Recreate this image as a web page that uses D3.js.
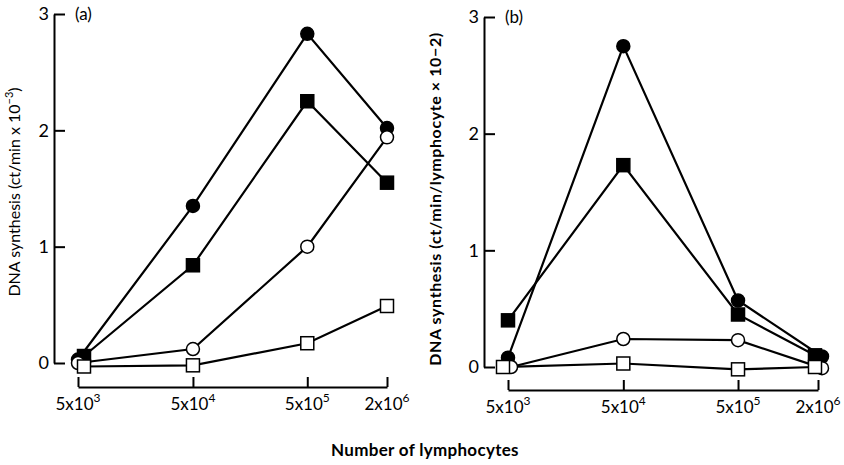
<!DOCTYPE html>
<html>
<head>
<meta charset="utf-8">
<script src="https://cdn.jsdelivr.net/npm/d3@7"></script>
<style>
  body { margin: 0; background: #fff; }
  text { font-family: Lato, 'Open Sans', sans-serif; fill: #000; }
</style>
</head>
<body>
<script>
var width = 844;
var height = 465;

// Cell counts on the x axis and their labels (mantissa, exponent).
var counts = [5e3, 5e4, 5e5, 2e6];
var countLabels = [['5x10', '3'], ['5x10', '4'], ['5x10', '5'], ['2x10', '6']];
var yTicks = [0, 1, 2, 3];

// Panel (a): ct/min x 10^-3
var filledCircleA = [0.03, 1.35, 2.83, 2.02];
var filledSquareA = [0.06, 0.84, 2.25, 1.55];
var openCircleA = [0.00, 0.12, 1.00, 1.94];
var openSquareA = [-0.03, -0.02, 0.17, 0.49];

// Panel (b): ct/min/lymphocyte x 10^-2
var filledCircleB = [0.08, 2.75, 0.57, 0.09];
var filledSquareB = [0.40, 1.73, 0.45, 0.10];
var openCircleB = [0.00, 0.24, 0.23, -0.01];
var openSquareB = [0.00, 0.03, -0.02, 0.00];

var svg = d3.select('body')
  .append('svg')
  .attr('width', width)
  .attr('height', height);

// Marker styles, in series order: filled circle, filled square, open circle, open square.
var markers = [
  {shape: 'circle', fill: '#000'},
  {shape: 'square', fill: '#000'},
  {shape: 'circle', fill: '#fff'},
  {shape: 'square', fill: '#fff'}
];

var panels = [
  {
    name: '(a)',
    series: [filledCircleA, filledSquareA, openCircleA, openSquareA],
    yAxisX: 54, xStart: 78, xLen: 309, yBottom: 363, yTop: 14, xAxisY: 387,
    // small sideways nudges the original uses where symbols overlap: [series, point, dx]
    nudge: [[1, 0, 6], [3, 0, 6]],
    titleX: 20, titleY: 192
  },
  {
    name: '(b)',
    series: [filledCircleB, filledSquareB, openCircleB, openSquareB],
    yAxisX: 484, xStart: 508, xLen: 310, yBottom: 367, yTop: 17, xAxisY: 390,
    nudge: [[3, 0, -5], [2, 0, 3], [1, 3, -3], [0, 3, 4], [3, 3, -3], [2, 3, 4]],
    titleX: 441, titleY: 199
  }
];

panels.forEach(function(p) {
  var g = svg.append('g');

  // x positions follow the original's spacing (log-like, last step shorter).
  var x = d3.scaleLog()
    .domain(counts)
    .range([p.xStart, p.xStart + p.xLen * 0.372, p.xStart + p.xLen * 0.742, p.xStart + p.xLen]);

  var y = d3.scaleLinear()
    .domain([0, 3])
    .range([p.yBottom, p.yTop]);

  // y axis with inward ticks
  var yAxis = g.append('g')
    .attr('transform', 'translate(' + p.yAxisX + ',0)')
    .call(d3.axisLeft(y).tickValues(yTicks).tickFormat(d3.format('d'))
      .tickSizeInner(-11).tickSizeOuter(0).tickPadding(5));
  yAxis.selectAll('path, line').attr('stroke', '#000').attr('stroke-width', 2);
  yAxis.selectAll('text').attr('font-size', 18).attr('fill', '#000')
    .style('font-family', 'Lato, sans-serif');

  // x axis drawn below, ticks pointing up
  var xAxis = g.append('g')
    .attr('transform', 'translate(0,' + p.xAxisY + ')')
    .call(d3.axisBottom(x).tickValues(counts).tickFormat('')
      .tickSizeInner(-10).tickSizeOuter(0));
  xAxis.selectAll('path, line').attr('stroke', '#000').attr('stroke-width', 2);

  var lab = g.append('g').selectAll('text')
    .data(counts)
    .enter().append('text')
    .attr('x', function(d) { return x(d); })
    .attr('y', p.xAxisY + 23)
    .attr('text-anchor', 'middle')
    .attr('font-size', 17);
  lab.append('tspan').text(function(d, i) { return countLabels[i][0]; });
  lab.append('tspan').attr('font-size', 12).attr('dy', -8)
    .text(function(d, i) { return countLabels[i][1]; });

  // panel letter
  g.append('text')
    .attr('x', p.yAxisX + 21)
    .attr('y', p.yTop + 6)
    .attr('font-size', 17)
    .text(p.name);

  function px(si, i) {
    var dx = 0;
    p.nudge.forEach(function(n) { if (n[0] === si && n[1] === i) dx = n[2]; });
    return x(counts[i]) + dx;
  }

  var line = d3.line();

  p.series.forEach(function(vals, si) {
    var pts = vals.map(function(v, i) { return [px(si, i), y(v)]; });
    g.append('path')
      .attr('d', line(pts))
      .attr('fill', 'none')
      .attr('stroke', '#000')
      .attr('stroke-width', 2.2);
  });

  // markers on top
  p.series.forEach(function(vals, si) {
    var m = markers[si];
    var sel = g.append('g').selectAll('.mk')
      .data(vals)
      .enter();
    if (m.shape === 'circle') {
      sel.append('circle')
        .attr('cx', function(d, i) { return px(si, i); })
        .attr('cy', function(d) { return y(d); })
        .attr('r', 6.5)
        .attr('fill', m.fill)
        .attr('stroke', '#000')
        .attr('stroke-width', 1.5);
    } else {
      sel.append('rect')
        .attr('x', function(d, i) { return px(si, i) - 6.5; })
        .attr('y', function(d) { return y(d) - 6.5; })
        .attr('width', 13)
        .attr('height', 13)
        .attr('fill', m.fill)
        .attr('stroke', '#000')
        .attr('stroke-width', 1.5);
    }
  });
});

// y-axis titles
var ta = svg.append('text')
  .attr('transform', 'translate(' + panels[0].titleX + ',' + panels[0].titleY + ') rotate(-90)')
  .attr('text-anchor', 'middle')
  .attr('font-size', 16);
ta.append('tspan').text('DNA synthesis (ct/min x 10');
ta.append('tspan').attr('font-size', 11).attr('dy', -7).text('\u22123');
ta.append('tspan').attr('dy', 7).text(')');

svg.append('text')
  .attr('transform', 'translate(' + panels[1].titleX + ',' + panels[1].titleY + ') rotate(-90)')
  .attr('text-anchor', 'middle')
  .attr('font-size', 16)
  .attr('letter-spacing', 0.6)
  .attr('font-weight', 'bold')
  .text('DNA synthesis (ct/min/lymphocyte \u00d7 10\u22122)');

// shared x title
svg.append('text')
  .attr('x', 425)
  .attr('y', 456)
  .attr('text-anchor', 'middle')
  .attr('font-size', 17)
  .attr('letter-spacing', 0.3)
  .attr('font-weight', 'bold')
  .text('Number of lymphocytes');
</script>
</body>
</html>
